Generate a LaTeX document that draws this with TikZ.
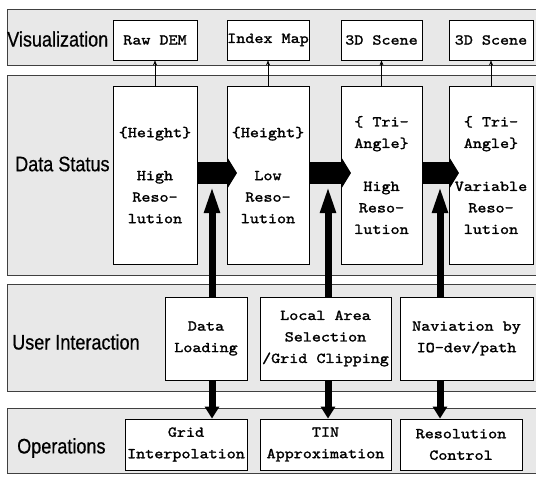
\documentclass[tikz,border=0pt]{standalone}
\usepackage{fontspec}
\setmainfont{Liberation Serif}
\newfontfamily\boxfont[FakeBold=1.6, FakeStretch=1.15]{lmmono10-regular.otf}
\newfontfamily\bandfont[FakeStretch=0.86, FakeBold=0.6]{Liberation Sans}
\usetikzlibrary{arrows.meta}

\tikzset{
	band/.style={draw=black!75, fill=black!9, line width=0.6pt},
	bandlabel/.style={anchor=west, inner sep=0pt, font=\bandfont\fontsize{21}{21}\selectfont},
	stagebox/.style={draw, fill=white, line width=0.8pt, inner sep=0pt, align=center,
		font=\boxfont\fontsize{15}{21.5}\selectfont},
	thinlink/.style={line width=0.6pt, -{Stealth[length=5pt,width=4pt]}},
	fatarrow/.style={line width=22pt, -{Triangle[length=10pt,width=32pt]}},
	uparrow/.style={line width=7pt, -{Triangle[length=28pt,width=14pt]}},
	downarrow/.style={line width=7pt, -{Triangle[length=12pt,width=14pt]}}
}

\begin{document}
\begin{tikzpicture}[x=1pt, y=-1pt]
			%%%%% START %%%%%
			\useasboundingbox (0, 0) rectangle (536, 479);
			
			\draw[band] (7, 9) rectangle (536, 65);
			\draw[band] (7, 75) rectangle (536, 275);
			\draw[band] (7, 284) rectangle (536, 391);
			\draw[band] (7, 408) rectangle (536, 473);
			
			\node[bandlabel] (lvis) at (7, 39) {Visualization};
			\node[bandlabel] (ldata) at (15, 164) {Data Status};
			\node[bandlabel] (luser) at (12, 342) {User Interaction};
			\node[bandlabel] (lops) at (17, 448) {Operations};
			
			% visualization
			\node[stagebox, minimum width=84pt, minimum height=40pt] (rawdem) at (155, 40) {Raw DEM};
			\node[stagebox, minimum width=82pt, minimum height=40pt] (indexmap) at (268, 40) {Index Map};
			\node[stagebox, minimum width=81pt, minimum height=40pt] (sceneA) at (381.5, 40) {3D Scene};
			\node[stagebox, minimum width=84pt, minimum height=40pt] (sceneB) at (491, 40) {3D Scene};
			
			% data status
			\node[stagebox, minimum width=84pt, minimum height=178pt] (hgtHigh) at (155, 175)
				{\{Height\}\\[21.5pt]High\\Reso-\\lution};
			\node[stagebox, minimum width=82pt, minimum height=178pt] (hgtLow) at (268, 175)
				{\{Height\}\\[21.5pt]Low\\Reso-\\lution};
			\node[stagebox, minimum width=81pt, minimum height=178pt] (triHigh) at (381.5, 175)
				{\{ Tri-\\Angle\}\\[21.5pt]High\\Reso-\\lution};
			\node[stagebox, minimum width=84pt, minimum height=178pt] (triVar) at (491, 175)
				{\{ Tri-\\Angle\}\\[21.5pt]Variable\\Reso-\\lution};
			
			% user interaction
			\node[stagebox, minimum width=82pt, minimum height=83pt] (loading) at (206, 338.5) {Data\\Loading};
			\node[stagebox, minimum width=131pt, minimum height=83pt] (clipping) at (325.5, 338.5)
				{Local Area\\Selection\\/Grid Clipping};
			\node[stagebox, minimum width=133pt, minimum height=83pt] (navig) at (466.5, 338.5)
				{Naviation by\\IO-dev/path};
			
			% operations
			\node[stagebox, minimum width=122pt, minimum height=51pt] (interp) at (186, 444.5)
				{Grid\\Interpolation};
			\node[stagebox, minimum width=131pt, minimum height=51pt] (tin) at (325.5, 444.5)
				{TIN\\Approximation};
			\node[stagebox, minimum width=122pt, minimum height=51pt] (rescontrol) at (461, 444.5)
				{Resolution\\Control};
			
			\draw[thinlink] (hgtHigh) -- (rawdem);
			\draw[thinlink] (hgtLow) -- (indexmap);
			\draw[thinlink] (triHigh) -- (sceneA);
			\draw[thinlink] (triVar) -- (sceneB);
			
			\coordinate (tipA) at (237, 173);
			\coordinate (tipB) at (351, 173);
			\coordinate (tipC) at (459, 173);
			\draw[fatarrow] (hgtHigh.east |- tipA) -- (tipA);
			\draw[fatarrow] (hgtLow.east |- tipB) -- (tipB);
			\draw[fatarrow] (triHigh.east |- tipC) -- (tipC);
			
			\coordinate (upA) at (212, 185);
			\coordinate (upB) at (328, 185);
			\coordinate (upC) at (440, 185);
			\draw[uparrow] (loading.north -| upA) -- (upA);
			\draw[uparrow] (clipping.north -| upB) -- (upB);
			\draw[uparrow] (navig.north -| upC) -- (upC);
			
			\draw[downarrow] (loading.south -| upA) -- (interp.north -| upA);
			\draw[downarrow] (clipping.south -| upB) -- (tin.north -| upB);
			\draw[downarrow] (navig.south -| upC) -- (rescontrol.north -| upC);
			
			%%%%% END %%%%%
\end{tikzpicture}
\end{document}
